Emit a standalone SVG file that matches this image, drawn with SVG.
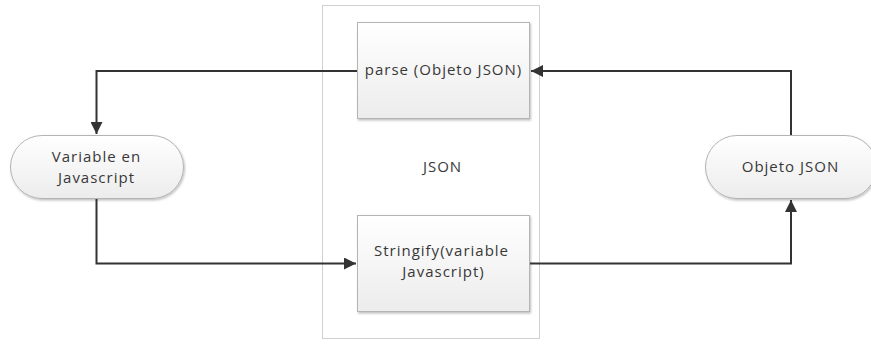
<svg xmlns="http://www.w3.org/2000/svg" width="871" height="345" viewBox="0 0 871 345">
  <style>
    .lbl { font-family: "Open Sans", "Noto Sans", "DejaVu Sans", sans-serif; font-size: 15px; letter-spacing: 1px; fill: #383838; text-anchor: middle; }
    .box { fill: url(#boxFill); stroke: #b4b4b4; stroke-width: 1; }
    .frame { fill: #ffffff; stroke: #d0d0d0; stroke-width: 1; }
    .wire { fill: none; stroke: #333333; stroke-width: 2; }
  </style>
  <defs>
    <linearGradient id="boxFill" x1="0" y1="0" x2="0" y2="1">
      <stop offset="0" stop-color="#ffffff"/>
      <stop offset="1" stop-color="#ececec"/>
    </linearGradient>
    <filter id="shadow" x="-10%" y="-10%" width="120%" height="130%">
      <feDropShadow dx="1" dy="1.5" stdDeviation="1.2" flood-color="#000000" flood-opacity="0.25"/>
    </filter>
    <marker id="arrow" viewBox="0 0 10 10" refX="10" refY="5" markerWidth="6" markerHeight="6" markerUnits="strokeWidth" orient="auto">
      <path d="M0,0 L10,5 L0,10 Z" fill="#333333"/>
    </marker>
  </defs>

  <rect width="871" height="345" fill="#ffffff"/>

  <!-- JSON container -->
  <g id="json">
    <rect class="frame" x="322.5" y="5.5" width="217" height="333"/>
    <text class="lbl" x="442.5" y="172">JSON</text>
  </g>

  <g id="parse">
    <rect class="box" x="357.5" y="22.5" width="172" height="96" filter="url(#shadow)"/>
    <text class="lbl" x="443.5" y="75">parse (Objeto JSON)</text>
  </g>

  <g id="stringify">
    <rect class="box" x="357.5" y="215.5" width="172" height="96" filter="url(#shadow)"/>
    <text class="lbl" x="441.5" y="256">Stringify(variable</text>
    <text class="lbl" x="443.5" y="277">Javascript)</text>
  </g>

  <g id="variable">
    <rect class="box" x="10.5" y="135.5" width="173" height="63" rx="31.5" ry="31.5" filter="url(#shadow)"/>
    <text class="lbl" x="96.5" y="162">Variable en</text>
    <text class="lbl" x="96.5" y="183">Javascript</text>
  </g>

  <g id="objeto">
    <rect class="box" x="705.5" y="135.5" width="171" height="63" rx="31.5" ry="31.5" filter="url(#shadow)"/>
    <text class="lbl" x="790.5" y="172">Objeto JSON</text>
  </g>

  <!-- connectors -->
  <g id="connectors">
    <path class="wire" d="M357,71 H96.5 V134" marker-end="url(#arrow)"/>
    <path class="wire" d="M791,135 V71 H531" marker-end="url(#arrow)"/>
    <path class="wire" d="M96.5,199 V263.5 H356" marker-end="url(#arrow)"/>
    <path class="wire" d="M530,263.5 H791 V200" marker-end="url(#arrow)"/>
  </g>
</svg>
